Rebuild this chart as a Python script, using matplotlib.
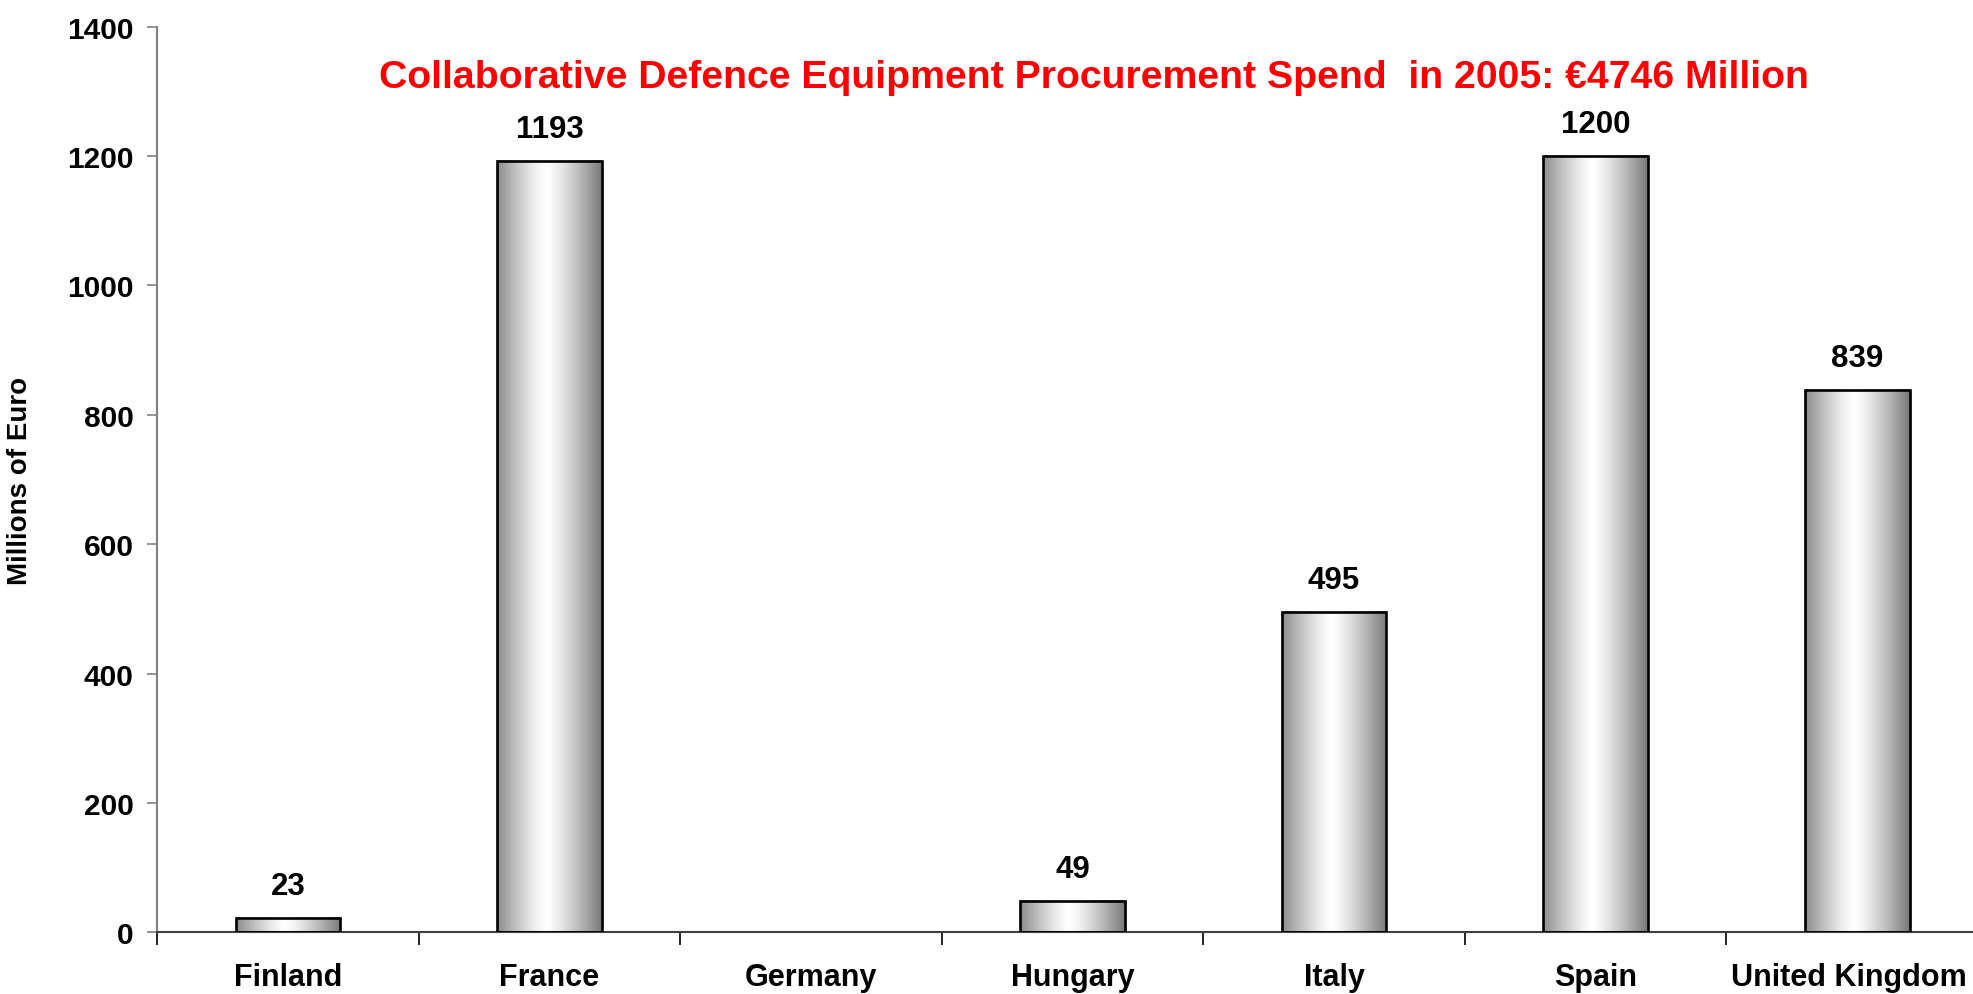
import numpy as np
import matplotlib
matplotlib.use("Agg")
import matplotlib.pyplot as plt
from matplotlib.patches import Rectangle
from matplotlib.transforms import ScaledTranslation

plt.rcParams['font.family'] = ['Liberation Sans', 'DejaVu Sans']
plt.rcParams['font.weight'] = 'bold'

# data
countries = ["Finland", "France", "Germany", "Hungary", "Italy", "Spain", "United Kingdom"]
spend = [23, 1193, None, 49, 495, 1200, 839]   # Germany has no bar
title = "Collaborative Defence Equipment Procurement Spend  in 2005: \u20ac4746 Million"

fig = plt.figure(figsize=(19.73, 9.95), dpi=100)
ax = fig.add_axes([0.0796, 0.0619, 0.928, 0.9103])

# horizontal gray-white-gray gradient for the bars
t = np.linspace(0, 1, 256)
shade = 1.0 - 0.53 * np.abs((t - 0.47) / 0.53) ** 1.3
grad = np.tile(shade, (2, 1))

bar_w = 0.4
for i, v in enumerate(spend):
    if v is None:
        continue
    x0 = i - bar_w / 2
    ax.imshow(grad, cmap='gray', vmin=0, vmax=1, aspect='auto',
              extent=(x0, x0 + bar_w, 0, v), zorder=2, interpolation='bilinear')
    ax.add_patch(Rectangle((x0, 0), bar_w, v, fill=False, edgecolor='black',
                           linewidth=1.9, zorder=3))
    ax.annotate(str(v), (i, v), xytext=(0, 12), textcoords='offset points',
                ha='center', va='bottom', fontsize=22.5, fontweight='bold')

ax.set_xlim(-0.5, len(countries) - 0.5)
ax.set_ylim(0, 1400)

# y axis
ax.set_yticks(np.arange(0, 1401, 200))
ax.tick_params(axis='y', direction='out', length=7, width=1.2, color='#808080',
               labelsize=21.5, pad=10)
ax.set_ylabel("Millions of Euro", fontsize=20, fontweight='bold')
ax.yaxis.set_label_coords(-0.068, 0.5)

# x axis: labels in the middle, tick marks on category borders
ax.set_xticks(range(len(countries)))
ax.set_xticklabels(countries)
ax.set_xticks(np.arange(-0.5, len(countries), 1.0), minor=True)
ax.tick_params(axis='x', which='major', length=0, labelsize=22, pad=21)
ax.tick_params(axis='x', which='minor', direction='out', length=9, width=1.2,
               color='black')
for lbl in ax.get_xticklabels() + ax.get_yticklabels():
    lbl.set_fontweight('bold')
# last label is nudged left so it stays inside the picture
last = ax.get_xticklabels()[-1]
last.set_transform(last.get_transform() + ScaledTranslation(-0.08, 0, fig.dpi_scale_trans))

for s in ['top', 'right']:
    ax.spines[s].set_visible(False)
ax.spines['left'].set_color('#808080')
ax.spines['left'].set_linewidth(1.5)
ax.spines['bottom'].set_color('#404040')
ax.spines['bottom'].set_linewidth(1.5)

fig.text(0.5545, 0.9216, title, color='#ff0000', fontsize=28.3, fontweight='bold',
         ha='center', va='center')

fig.savefig("out.png", dpi=100)
